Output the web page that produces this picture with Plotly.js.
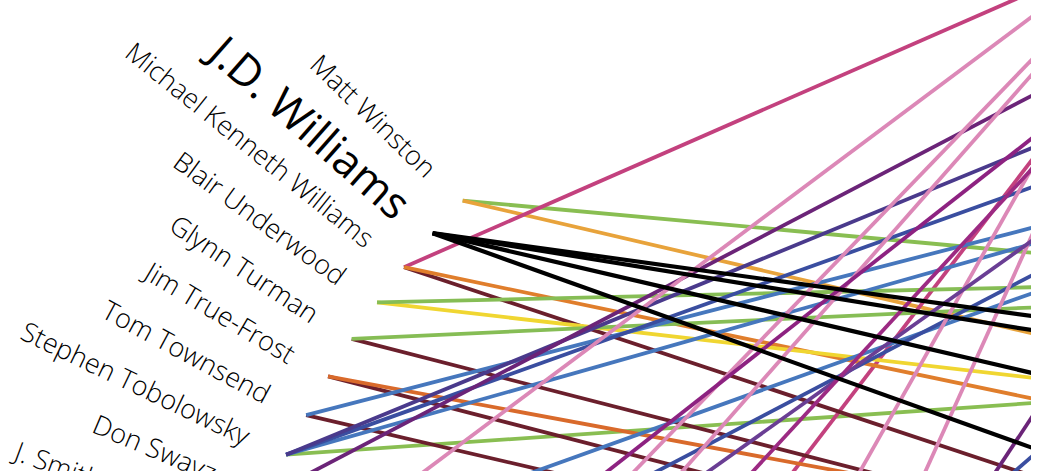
<!DOCTYPE html>
<html>
<head>
<meta charset="utf-8">
<script src="https://cdn.plot.ly/plotly-3.0.1.min.js"></script>
<style>html, body { margin: 0; padding: 0; background: #fff; }</style>
</head>
<body>
<div id="chart" style="width:1038px;height:471px"></div>
<script>
// Cast members sit round one big circle, in alphabetical steps
var nodeCount = 137;
var names = ['Matt Winston', 'J.D. Williams', 'Michael Kenneth Williams', 'Blair Underwood',
  'Glynn Turman', 'Jim True-Frost', 'Tom Townsend', 'Stephen Tobolowsky', 'Don Swayze', 'J. Smith-Cameron'];
var highlight = 1; // J.D. Williams

// links, as node indexes round the circle (negative = the far side)
var linkFrom = [0, 0, 1, 1, 1, 1, 2, 2, 2, 3, 3, 4, 4, 5, 5, 6, 6, 7, 7, 7, 7, 8,
  10, 11, 13, 15, 16, 18, 20, 21, 23, 24, 29, 30, 33];
var linkTo = [-39, -45, -42, -43, -46, -51, -19, -51, -46, -43, -37, -37, -50, -51, -48, -30, -51, -39, -27, -30, -25, -22,
  -30, -18, -27, -21, -24, -18, -18, -20, -27, -19, -18, -22, -18];

// colour of each far-side node
var colorNodes = [-51, -50, -48, -46, -45, -43, -39, -37, -30, -27, -25, -24, -22, -21, -20, -19, -18];
var colorList = ['#6b1f2c', '#6b1f2c', '#d96a2b', '#e07e2c', '#e8a33b', '#f0d631', '#89be52', '#86bd55',
  '#4677bd', '#3a4ea0', '#4a3a8c', '#6a3e94', '#6b2478', '#8d2281', '#9c2a83', '#c3417e', '#dc88b7'];

// the picture only shows a piece of the circle
var W = 1038, H = 471, plotW = 1031;
var CX = 1159, CY = 873, R = 968; // circle centre / radius in pixels
var startAngle = 136, step = 360 / nodeCount;
var xr = [-CX / R, (plotW - CX) / R];
var yr = [(CY - H) / R, CY / R];

function angleOf(k) { return startAngle + step * k; }
function pos(k, r) {
  var a = angleOf(k) * Math.PI / 180;
  return [Math.cos(a) * r, Math.sin(a) * r];
}

// group the links by colour, black ones drawn last
var groups = {};
var order = [];
for (var i = 0; i < linkFrom.length; i++) {
  var col = linkFrom[i] === highlight ? '#000000' : colorList[colorNodes.indexOf(linkTo[i])];
  if (!groups[col]) { groups[col] = { x: [], y: [] }; order.push(col); }
  var a = pos(linkFrom[i], 1), b = pos(linkTo[i], 1);
  groups[col].x.push(a[0], b[0], null);
  groups[col].y.push(a[1], b[1], null);
}
order.sort(function (p, q) { return (p === '#000000') - (q === '#000000'); });

var data = order.map(function (col) {
  return {
    x: groups[col].x, y: groups[col].y,
    type: 'scatter', mode: 'lines',
    line: { color: col, width: col === '#000000' ? 4.2 : 3.8 },
    hoverinfo: 'skip'
  };
});

// labels: rotated along the radius, ending a little way outside the node
var ctx = document.createElement('canvas').getContext('2d');
var annotations = names.map(function (name, k) {
  var big = k === highlight;
  var size = big ? 44 : 27, weight = big ? 500 : 300;
  ctx.font = weight + ' ' + size + 'px "Open Sans"';
  var w = ctx.measureText(name).width;
  var gap = big ? 38 : 42;
  var p = pos(k, 1 + (gap + w / 2) / R);
  return {
    text: name,
    x: (p[0] - xr[0]) / (xr[1] - xr[0]),
    y: (p[1] - yr[0]) / (yr[1] - yr[0]),
    xref: 'paper', yref: 'paper',
    xanchor: 'center', yanchor: 'middle',
    textangle: 180 - angleOf(k),
    showarrow: false,
    font: { family: 'Open Sans', size: size, weight: weight, color: '#000000' }
  };
});

var layout = {
  width: W, height: H,
  margin: { l: 0, r: W - plotW, t: 0, b: 0 },
  paper_bgcolor: '#ffffff', plot_bgcolor: '#ffffff',
  showlegend: false,
  xaxis: { range: xr, visible: false, fixedrange: true },
  yaxis: { range: yr, visible: false, fixedrange: true },
  annotations: annotations
};

Plotly.newPlot('chart', data, layout, { displayModeBar: false, staticPlot: true });
</script>
</body>
</html>
